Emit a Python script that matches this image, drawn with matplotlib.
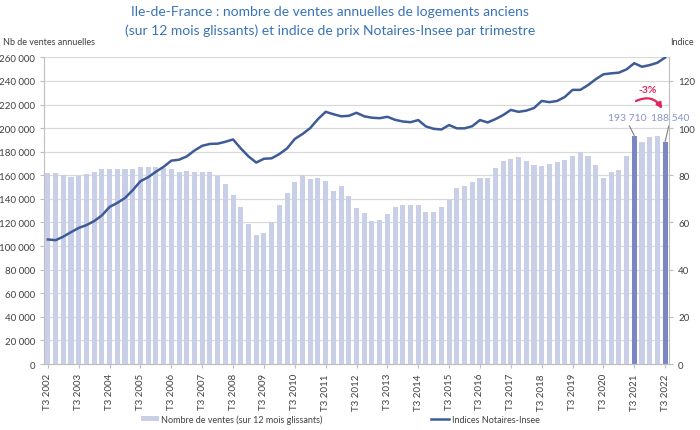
import matplotlib
matplotlib.use("Agg")
import matplotlib.pyplot as plt
from matplotlib.lines import Line2D
from matplotlib.patches import Patch

plt.rcParams["font.family"] = ["Lato", "DejaVu Sans"]

# ---------------- data ----------------
# quarters T3 2002 .. T3 2022
quarters = [f"T{q} {y}" for y in range(2002, 2023) for q in (1, 2, 3, 4)]
quarters = quarters[2:-1]  # starts T3 2002, ends T3 2022

# nombre de ventes (sur 12 mois glissants)
ventes = [
    162000, 162000, 160000, 158300, 159000, 161000, 163000, 165600,
    165600, 165000, 165000, 165600, 167000, 167300, 167300, 166500,
    165000, 163000, 163700, 162500, 163000, 163000, 159000, 153000,
    143000, 133000, 119000, 109000, 110700, 120000, 135000, 145000,
    154000, 160000, 157000, 158000, 155000, 147000, 151000, 142500,
    132400, 128200, 121000, 122500, 126800, 133200, 135200, 134600,
    134400, 128700, 128700, 133000, 139400, 149300, 151300, 154400,
    158000, 157500, 166500, 172000, 173800, 175200, 171800, 169000,
    168200, 169600, 171000, 172700, 176600, 179400, 176600, 169000,
    157700, 162500, 164800, 176600, 193710, 187900, 192400, 193500,
    188540,
]

# indices Notaires-Insee
indice = [
    52.8, 52.5, 54.0, 55.9, 57.7, 58.9, 60.6, 63.0, 66.6, 68.3,
    70.4, 73.7, 77.5, 79.2, 81.5, 83.6, 86.2, 86.6, 88.0, 90.5,
    92.5, 93.3, 93.4, 94.2, 95.2, 91.4, 88.0, 85.4, 87.0, 87.2,
    89.0, 91.4, 95.4, 97.5, 100.0, 103.8, 106.9, 105.9, 105.0, 105.2,
    106.5, 105.0, 104.4, 104.2, 104.8, 103.5, 102.8, 102.5, 103.4, 100.7,
    99.7, 99.4, 101.3, 99.9, 99.9, 100.8, 103.4, 102.4, 103.8, 105.5,
    107.7, 106.9, 107.4, 108.5, 111.5, 111.0, 111.5, 113.2, 116.2, 116.2,
    118.2, 120.7, 122.8, 123.2, 123.5, 124.9, 127.5, 126.0, 126.7, 127.7,
    129.9,
]

highlight = [76, 80]  # T3 2021 and T3 2022
tick_idx = list(range(0, len(quarters), 4))
tick_labels = [quarters[i] for i in tick_idx]

# ---------------- styles ----------------
bar_light = "#cacfe8"
bar_dark = "#7b87c3"
line_col = "#3f5b97"
grid_col = "#d9d9d9"
text_col = "#404040"
label_col = "#8893c6"
red = "#e0245e"


def fmt(v):
    return f"{v:,}".replace(",", " ")


fig = plt.figure(figsize=(7, 4.31), dpi=100)
ax = fig.add_axes([0.0629, 0.153, 0.8928, 0.7117])
ax2 = ax.twinx()

x = list(range(len(quarters)))
colors = [bar_dark if i in highlight else bar_light for i in x]
ax.bar(x, ventes, width=0.66, color=colors, zorder=2)

ax2.plot(x, indice, color=line_col, lw=1.8, zorder=3)

ax.set_xlim(-0.5, len(quarters) - 0.5)
ax.set_ylim(0, 260000)
ax.set_yticks(range(0, 260001, 20000))
ax.set_yticklabels([fmt(v) for v in range(0, 260001, 20000)])
ax2.set_ylim(0, 130)
ax2.set_yticks(range(0, 121, 20))

ax.set_xticks(tick_idx)
ax.set_xticklabels(tick_labels, rotation=90)

ax.yaxis.grid(True, color=grid_col, lw=0.9, zorder=0)
ax.set_axisbelow(True)

for a in (ax, ax2):
    a.spines["top"].set_visible(False)
    for s in ("left", "right", "bottom"):
        a.spines[s].set_color("#bfbfbf")
        a.spines[s].set_linewidth(0.8)
    a.tick_params(colors="#bfbfbf", labelcolor=text_col, labelsize=7, length=3, width=0.8)
ax2.spines["left"].set_visible(False)
ax.spines["right"].set_visible(False)

# axis titles
fig.text(0.004, 0.902, "Nb de ventes annuelles", fontsize=6.5, color=text_col, va="center")
fig.text(0.958, 0.902, "Indice", fontsize=6.5, color=text_col, va="center")

# title
fig.text(0.472, 0.972, "Ile-de-France : nombre de ventes annuelles de logements anciens",
         ha="center", va="center", fontsize=10, color="#3873b5")
fig.text(0.472, 0.929, "(sur 12 mois glissants) et indice de prix Notaires-Insee par trimestre",
         ha="center", va="center", fontsize=10, color="#3873b5")

# value labels for the two highlighted quarters
lead = dict(arrowstyle="-", color="#7f7f7f", lw=0.8, shrinkA=1, shrinkB=0, relpos=(0.5, 0))
ax.annotate(fmt(ventes[76]), xy=(76, ventes[76]), xytext=(75.1, 209200),
            ha="center", va="center", fontsize=7.5, color=label_col,
            arrowprops=lead, zorder=5)
ax.annotate(fmt(ventes[80]), xy=(80, ventes[80]), xytext=(80.6, 209200),
            ha="center", va="center", fontsize=7.5, color=label_col, annotation_clip=False,
            arrowprops=lead, zorder=5)

# -3% curved arrow
ax.annotate("", xy=(79.8, 214300), xytext=(75.9, 221900),
            arrowprops=dict(arrowstyle="-|>", color=red, lw=1.6, mutation_scale=8,
                            connectionstyle="arc3,rad=-0.5"), zorder=5)
pct = (ventes[80] - ventes[76]) / ventes[76] * 100
ax.text(77.7, 233000, f"{pct:.0f}%", ha="center", va="center", fontsize=7.5,
        color=red, fontweight="bold", zorder=5)

# legend
handles = [Patch(facecolor=bar_light, edgecolor="none"),
           Line2D([0], [0], color=line_col, lw=1.8)]
fig.legend(handles, ["Nombre de ventes (sur 12 mois glissants)", "Indices Notaires-Insee"],
           loc="center", bbox_to_anchor=(0.486, 0.026), ncol=2, frameon=False,
           fontsize=6.5, labelcolor=text_col, columnspacing=12, handlelength=2.0,
           handletextpad=0.3, handleheight=0.5)

fig.savefig("out.png", dpi=100)
